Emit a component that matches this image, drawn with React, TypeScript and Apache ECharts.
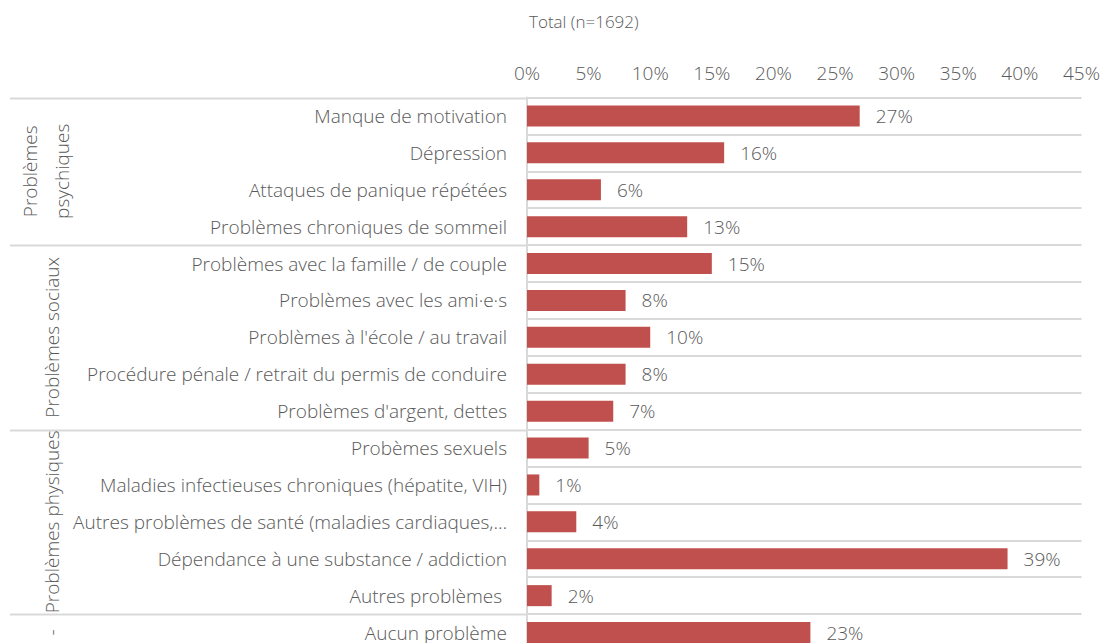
import React, { useEffect, useRef } from "react";
import * as echarts from "echarts";

const categories = [
  "Manque de motivation",
  "Dépression",
  "Attaques de panique répétées",
  "Problèmes chroniques de sommeil",
  "Problèmes avec la famille / de couple",
  "Problèmes avec les ami·e·s",
  "Problèmes à l'école / au travail",
  "Procédure pénale / retrait du permis de conduire",
  "Problèmes d'argent, dettes",
  "Probèmes sexuels",
  "Maladies infectieuses chroniques (hépatite, VIH)",
  "Autres problèmes de santé (maladies cardiaques,…",
  "Dépendance à une substance / addiction",
  "Autres problèmes ",
  "Aucun problème",
];
const values = [27, 16, 6, 13, 15, 8, 10, 8, 7, 5, 1, 4, 39, 2, 23];
const groupNames = ["Problèmes\npsychiques", "Problèmes sociaux", "Problèmes physiques", "-"];
const groupSizes = [4, 5, 5, 1];
const xTicks = { min: 0, max: 45, interval: 5 };
const title = "Total (n=1692)";

const FONT = "'Open Sans', 'Noto Sans', sans-serif";
const TEXT = "#595959";
const GRID_LINE = "#d9d9d9";
const FS = 19;

export default function App() {
  const ref = useRef<HTMLDivElement>(null);
  useEffect(() => {
    document.body.style.margin = "0";
    document.body.style.overflow = "hidden";
    const chart = echarts.init(ref.current!, undefined, { renderer: "svg" });
    const gridTop = 97.5;
    const gridLeft = 527;
    const gridRight = 20;
    const rowH = 36.9;
    const gridH = rowH * categories.length;

    const graphics: any[] = [];
    let start = 0;
    groupSizes.forEach((n, i) => {
      const y0 = gridTop + start * rowH;
      graphics.push({
        type: "line",
        shape: { x1: 10, y1: Math.round(y0) + 0.5, x2: gridLeft, y2: Math.round(y0) + 0.5 },
        style: { stroke: GRID_LINE, lineWidth: 2 },
        silent: true,
      });
      const cy = y0 + (n * rowH) / 2;
      const twoLines = groupNames[i].includes("\n");
      graphics.push({
        type: "text",
        x: twoLines ? 46 : 52,
        y: cy,
        rotation: Math.PI / 2,
        style: {
          text: groupNames[i],
          font: `300 ${FS}px ${FONT}`,
          fill: TEXT,
          align: "center",
          verticalAlign: "middle",
          lineHeight: 32,
        },
        silent: true,
      });
      start += n;
    });

    chart.setOption({
      animation: false,
      textStyle: { fontFamily: FONT },
      title: {
        text: title,
        left: 524,
        top: 8,
        textStyle: { fontFamily: FONT, fontSize: 17, fontWeight: 300, color: TEXT },
      },
      grid: { left: gridLeft, right: gridRight, top: gridTop, height: gridH, containLabel: false },
      xAxis: {
        type: "value",
        position: "top",
        min: xTicks.min,
        max: xTicks.max,
        interval: xTicks.interval,
        axisLine: { show: false },
        axisTick: { show: false },
        splitLine: { show: false },
        axisLabel: {
          formatter: "{value}%",
          fontFamily: FONT,
          fontSize: FS,
          fontWeight: 300,
          color: TEXT,
          margin: 15,
        },
      },
      yAxis: {
        type: "category",
        inverse: true,
        data: categories,
        axisLine: { show: true, lineStyle: { color: GRID_LINE, width: 2 } },
        axisTick: { show: false },
        splitLine: { show: true, interval: 0, lineStyle: { color: GRID_LINE, width: 2 } },
        axisLabel: {
          fontFamily: FONT,
          fontSize: FS,
          fontWeight: 300,
          color: TEXT,
          margin: 20,
          interval: 0,
        },
      },
      series: [
        {
          type: "bar",
          data: values,
          barCategoryGap: "43%",
          itemStyle: { color: "#C0504D" },
          label: {
            show: true,
            position: "right",
            distance: 16,
            formatter: (p: any) => `${p.value}%`,
            fontFamily: FONT,
            fontSize: FS,
            fontWeight: 300,
            color: TEXT,
          },
        },
      ],
      graphic: graphics,
    });
    return () => chart.dispose();
  }, []);
  return (
    <div style={{ width: 1103, height: 643, overflow: "hidden" }}>
      <div ref={ref} style={{ width: 1103, height: 670 }} />
    </div>
  );
}
